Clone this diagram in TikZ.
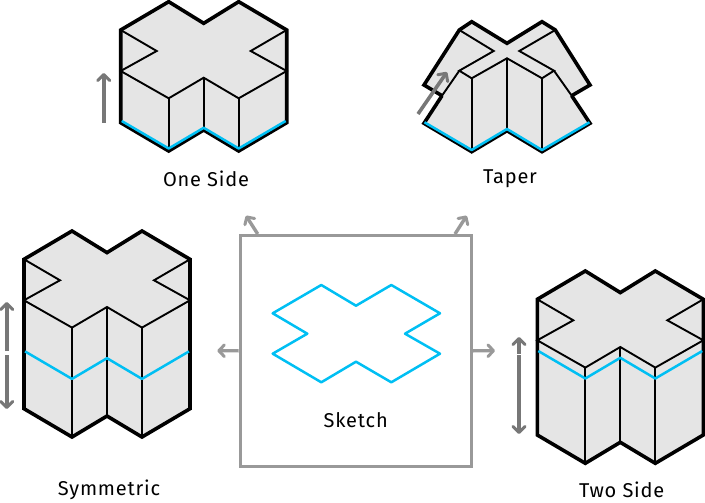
\documentclass[tikz,border=0pt]{standalone}
\usepackage{xcolor}
\usepackage{fontspec}
\setmainfont[LetterSpace=4]{Fira Sans}
\usetikzlibrary{arrows.meta}

\definecolor{blockgray}{HTML}{E5E5E5}
\definecolor{sketchblue}{HTML}{00BFF3}
\definecolor{arrowgray}{HTML}{777777}
\definecolor{framegray}{HTML}{999999}

\tikzset{
  outline/.style={line width=3.6pt, line join=miter, black},
  edge/.style={line width=1.9pt, black},
  sketch/.style={line width=2.5pt, sketchblue, line join=round},
  travel/.style={line width=3.6pt, arrowgray, -{Straight Barb[length=6pt, width=12pt, line width=3pt, round]}},
  branch/.style={line width=3.4pt, framegray, -{Straight Barb[length=5.5pt, width=11.5pt, line width=3pt, round]}},
  caption/.style={font=\fontsize{20}{24}\selectfont, text=black}
}

% cross block: centre x, top y, outer height
\newcommand{\crossblock}[3]{
  \begin{scope}[shift={(#1,#2)}]
    \fill[blockgray] (-83,28.3) -- (-35,0) -- (0,21.6) -- (35,0) -- (83,28.3)
      -- (83,#3) -- (35,#3+28.3) -- (0,#3+7.3) -- (-35,#3+28.3) -- (-83,#3) -- cycle;
    \draw[edge] (-83,28.3) -- (-47,49.3) -- (-83,69.3) -- (-35,96.6) -- (0,76) -- (35,96.6) -- (83,69.3) -- (47,49.3) -- (83,28.3);
    \draw[edge] (-35,96.6) -- (-35,#3+28.3);
    \draw[edge] (0,76) -- (0,#3+7.3);
    \draw[edge] (35,96.6) -- (35,#3+28.3);
    \draw[outline] (-83,28.3) -- (-35,0) -- (0,21.6) -- (35,0) -- (83,28.3)
      -- (83,#3) -- (35,#3+28.3) -- (0,#3+7.3) -- (-35,#3+28.3) -- (-83,#3) -- cycle;
  \end{scope}
}
% blue sketch edge: centre x, y of the outer ends
\newcommand{\sketchedge}[2]{
  \draw[sketch, shift={(#1,#2)}] (-82,0) -- (-35,27.5) -- (0,6.8) -- (35,27.5) -- (82,0);
}

\begin{document}
\begin{tikzpicture}[x=1pt, y=-1pt]
  \useasboundingbox (0,0) rectangle (705,503);

  % one side
  \crossblock{203.7}{1.7}{121}
  \sketchedge{203.7}{121}
  \draw[travel] (103.7,123) -- (103.7,73);
  \node[caption] (oneside) at (206,179) {One Side};

  % taper
  \fill[blockgray] (424,85) -- (459.3,30) -- (471.7,21.7) -- (507,43.3) -- (542,21.7) -- (555.3,30) -- (590,85)
    -- (571.7,95.7) -- (590,123.3) -- (542,151.7) -- (507,130.7) -- (471.7,151.7) -- (424,123.3) -- (442,95.7) -- cycle;
  \draw[edge] (459.3,30) -- (493.7,51) -- (459.3,70.7) -- (471.7,78.3) -- (507,58.3) -- (542,78.3) -- (554,70.7) -- (519.3,51) -- (555.3,30);
  \draw[edge] (459.3,70.7) -- (442,95.7);
  \draw[edge] (554,70.7) -- (571.7,95.7);
  \draw[edge] (471.7,78.3) -- (471.7,151.7);
  \draw[edge] (507,58.3) -- (507,130.7);
  \draw[edge] (542,78.3) -- (542,151.7);
  \draw[outline] (442,95.7) -- (424,85) -- (459.3,30) -- (471.7,21.7) -- (507,43.3) -- (542,21.7) -- (555.3,30) -- (590,85) -- (571.7,95.7);
  \draw[outline] (442,95.7) -- (424,123.3) -- (471.7,151.7) -- (507,130.7) -- (542,151.7) -- (590,123.3) -- (571.7,95.7);
  \draw[sketch] (424.5,122.3) -- (471.7,150) -- (507,129) -- (542,150) -- (589.5,122.3);
  \draw[travel] (418,114) -- (447,72);
  \node[caption] (taper) at (510,179) {Taper};

  % symmetric
  \crossblock{107}{231}{177.7}
  \sketchedge{107}{351.4}
  \draw[travel] (6.7,351) -- (6.7,302);
  \draw[travel] (6.7,355) -- (6.7,409);
  \node[caption] (symmetric) at (109,490) {Symmetric};

  % two side
  \crossblock{620.3}{271}{164}
  \sketchedge{620.3}{351}
  \draw[travel] (519,354) -- (519,337);
  \draw[travel] (519,355) -- (519,434);
  \node[caption] (twoside) at (621.7,490) {Two Side};

  % sketch
  \node[draw=framegray, line width=3.4pt, minimum width=231pt, minimum height=231pt, inner sep=0pt] (frame) at (355.8,350.8) {};
  \draw[sketch] (272.7,313.3) -- (321.3,285) -- (356,305.7) -- (391.3,285) -- (440,313.3) -- (405,333.7) -- (440,353.7)
    -- (391.3,382.3) -- (356,361.7) -- (321.3,382.3) -- (272.7,353.7) -- (307.3,333.7) -- cycle;
  \node[caption] (sketchlabel) at (355.7,420) {Sketch};

  % arrows out of the frame
  \coordinate (topleft) at (246,215.7);
  \coordinate (topright) at (466.7,215.7);
  \coordinate (farleft) at (217.3,350.7);
  \coordinate (farright) at (495,350.7);
  \draw[branch] (257.7,234) -- (topleft);
  \draw[branch] (455,234) -- (topright);
  \draw[branch] (frame.west) -- (farleft);
  \draw[branch] (frame.east) -- (farright);
\end{tikzpicture}
\end{document}
